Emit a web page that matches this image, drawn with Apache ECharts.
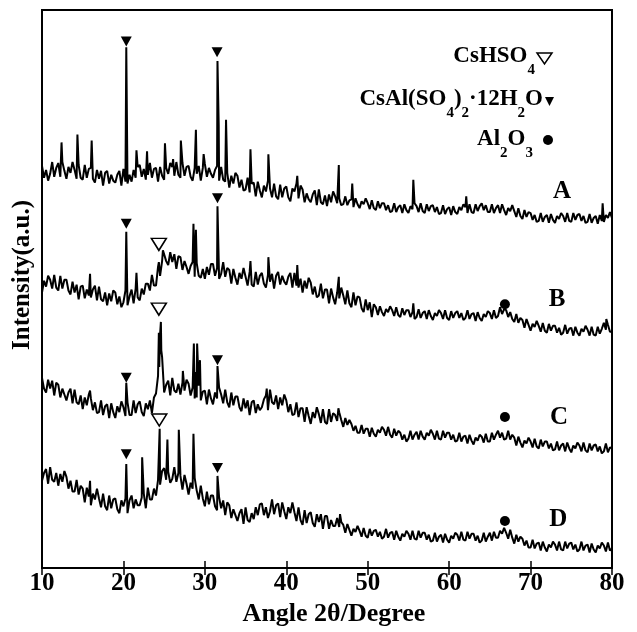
<!DOCTYPE html>
<html>
<head>
<meta charset="utf-8">
<script src="https://cdn.jsdelivr.net/npm/echarts@6.0.0/dist/echarts.min.js"></script>
<style>
    html, body { margin: 0; padding: 0; background: #fff; }
    #chart { width: 637px; height: 632px; }
</style>
</head>
<body>
<div id="chart"></div>
<script>
// 2θ grid of the scans, 10° .. 80° every 0.25°
const angles = [];
for (let i = 0; i <= 280; i++) angles.push(10 + i * 0.25);

// intensities (a.u.), one row = 2 degrees
const intensityA = [
    410,398,406,395, 402,414,399,408,
    413,399,414,405, 397,409,403,414,
    406,397,411,398, 396,411,398,407,
    408,397,393,406, 397,405,390,403,
    405,392,401,395, 393,401,405,390,
    407,394,392,401, 394,406,398,409,
    411,399,407,396, 401,413,398,407,
    408,394,409,400, 396,408,402,413,
    409,400,414,401, 398,413,400,409,
    410,399,395,408, 402,410,395,408,
    412,399,408,402, 398,406,410,395,
    409,396,394,403, 388,400,392,403,
    400,388,396,385, 386,398,383,392,
    393,379,394,385, 378,390,384,395,
    387,378,392,379, 376,391,378,387,
    389,378,374,387, 384,392,377,390,
    386,373,382,376, 373,381,385,370,
    386,373,371,380, 369,381,373,384,
    379,372,377,370, 371,379,370,375,
    376,368,377,371, 367,374,371,377,
    372,366,375,367, 365,374,367,372,
    372,365,370,363, 364,372,363,368,
    370,362,371,365, 362,369,366,372,
    369,363,372,364, 362,371,364,369,
    370,363,368,361, 362,370,361,366,
    368,360,369,363, 361,368,365,371,
    368,362,371,363, 362,371,364,369,
    372,365,370,363, 363,371,362,367,
    370,362,371,365, 360,367,364,370,
    364,358,367,359, 356,365,358,363,
    362,355,360,353, 354,362,353,358,
    360,352,361,355, 352,359,356,362,
    359,353,362,354, 353,362,355,360,
    361,354,359,352, 353,361,352,357,
    359,351,360,354, 353,360,357,363,
    357
];
const intensityB = [
    281,293,287,298, 294,285,299,286,
    283,298,285,294, 294,283,279,292,
    281,289,274,287, 288,275,284,278,
    276,284,288,273, 287,274,272,281,
    268,280,272,283, 281,269,277,266,
    271,283,268,277, 284,270,285,276,
    273,285,279,290, 290,283,299,288,
    288,307,298,313, 324,313,309,322,
    312,320,305,318, 317,304,313,307,
    300,308,312,297, 311,298,296,305,
    295,307,299,310, 310,298,306,295,
    300,312,297,306, 304,290,305,296,
    289,301,295,306, 297,288,302,289,
    287,302,289,298, 301,290,286,299,
    292,300,285,298, 302,289,298,292,
    289,297,301,286, 301,288,286,295,
    281,293,285,296, 291,279,287,276,
    278,290,275,284, 284,270,285,276,
    269,281,275,286, 278,269,283,270,
    266,281,268,277, 276,265,261,274,
    263,271,256,269, 266,258,267,261,
    257,264,261,267, 263,257,266,258,
    256,265,258,263, 263,256,261,254,
    256,264,255,260, 262,254,263,257,
    253,260,257,263, 260,254,263,255,
    253,262,255,260, 262,255,260,253,
    255,263,254,259, 260,252,261,255,
    252,259,256,262, 260,254,263,255,
    257,266,259,264, 263,256,261,254,
    251,259,250,255, 253,245,254,248,
    242,249,246,252, 247,241,250,242,
    240,249,242,247, 247,240,245,238,
    240,248,239,244, 245,237,246,240,
    237,244,241,247, 243,237,246,238,
    237,246,239,244, 250,243,248,241,
    241
];
const intensityC = [
    194,183,179,192, 183,191,176,189,
    187,174,183,177, 171,179,183,168,
    182,169,167,176, 162,174,166,177,
    173,161,169,158, 159,171,156,165,
    167,153,168,159, 153,165,159,170,
    164,155,169,156, 156,171,158,167,
    170,159,155,168, 162,171,158,174,
    178,196,238,215, 179,187,191,176,
    194,181,179,188, 177,189,181,192,
    188,176,184,173, 174,186,171,180,
    181,167,182,173, 167,179,173,184,
    177,168,182,169, 164,179,166,175,
    175,164,160,173, 163,171,156,169,
    171,158,167,161, 164,172,176,161,
    182,169,167,176, 162,174,166,177,
    171,159,167,156, 157,169,154,163,
    163,149,164,155, 147,159,153,164,
    157,148,162,149, 147,162,149,158,
    156,150,159,151, 144,153,146,151,
    147,140,145,138, 138,146,137,142,
    142,134,143,137, 134,141,138,144,
    141,135,144,136, 133,142,135,140,
    138,131,136,129, 132,140,131,136,
    139,131,140,134, 131,138,135,141,
    137,131,140,132, 131,140,133,138,
    138,131,136,129, 130,138,129,134,
    135,127,136,130, 126,133,130,136,
    134,128,137,129, 129,138,131,136,
    140,133,138,131, 132,140,131,136,
    133,125,134,128, 123,130,127,133,
    129,123,132,124, 122,131,124,129,
    129,122,127,120, 121,129,120,125,
    127,119,128,122, 118,125,122,128,
    125,119,128,120, 118,127,120,125,
    126,119,124,117, 119,127,118,123,
    122
];
const intensityD = [
    89,97,101,86, 103,90,88,97,
    84,96,88,99, 93,81,89,78,
    78,90,75,84, 81,67,82,73,
    64,76,70,81, 71,62,76,63,
    59,74,61,70, 71,60,56,69,
    63,71,56,69, 74,61,70,64,
    64,72,76,61, 82,70,70,81,
    74,90,85,99, 102,90,98,87,
    91,103,88,97, 94,80,95,86,
    75,87,81,92, 79,70,84,71,
    63,78,65,74, 74,63,59,72,
    61,69,54,67, 64,51,60,54,
    48,56,60,45, 62,49,47,56,
    50,62,54,65, 66,54,62,51,
    58,70,55,64, 66,52,67,58,
    50,62,56,67, 57,48,62,49,
    44,59,46,55, 57,46,42,55,
    47,55,40,53, 53,40,49,43,
    43,51,42,47, 44,36,45,39,
    33,40,37,43, 38,32,41,33,
    31,40,33,38, 39,32,37,30,
    32,40,31,36, 37,29,38,32,
    28,35,32,38, 35,29,38,30,
    29,38,31,36, 36,29,34,27,
    28,36,27,32, 34,26,35,29,
    26,33,30,36, 34,28,37,29,
    28,37,30,35, 35,28,33,26,
    28,36,27,32, 36,28,37,31,
    31,38,35,41, 36,30,39,31,
    25,34,27,32, 30,23,28,21,
    21,29,20,25, 26,18,27,21,
    17,24,21,27, 24,18,27,19,
    18,27,20,25, 26,19,24,17,
    19,27,18,23, 24,16,25,19,
    16,23,20,26, 23,17,26,18,
    20
];

// sharp reflections [2θ, top]
const peaksA = [[12.4,434],[14.35,442],[16.1,436],[20.35,531],[21.6,426],[22.9,425],[25.1,433],[26.1,417],
    [27.05,436],[28.9,447],[29.85,422],[31.55,517],[31.7,452],[32.6,457],[35.6,427],[37.8,422],[41.35,400],
    [46.45,411],[48.1,392],[55.6,396],[62.1,379],[78.85,372]];
const peaksB = [[15.9,300],[20.35,343],[21.6,301],[24.35,312],[24.85,324],[28.6,351],[28.9,345],[31.55,369],
    [35.6,313],[37.8,317],[41.35,309],[46.45,297],[55.6,270],[79.3,254]];
const peaksC = [[15.9,181],[20.35,189],[24.35,240],[24.4,205],[24.6,251],[24.65,222],[24.9,214],[27.3,201],
    [28.65,229],[28.85,200],[29.05,229],[29.4,212],[31.55,206],[37.6,183],[46.4,163]];
const peaksD = [[15.9,89],[20.35,106],[22.3,113],[24.45,142],[25.4,131],[26.8,141],[28.6,137],[31.55,94],[46.6,55]];

// phase markers
const alumMarks = [[20.35,537],[31.5,526],[20.35,351],[31.55,377],[20.35,194],[31.55,212],[20.35,116],[31.55,102]];
const hso4Marks = [[24.35,330],[24.35,264],[24.4,151]];
const aluminaMarks = [[66.85,269],[66.85,154],[66.85,48]];

const sampleNames = ['A', 'B', 'C', 'D'];
const samplePos = [[73.85,384],[73.25,274],[73.5,153],[73.4,50]];

const serif = '"Liberation Serif", "Times New Roman", serif';

function buildTrace(values, peaks) {
    const pts = angles.map((a, i) => [a, values[i]]);
    return pts.concat(peaks).sort((p, q) => p[0] - q[0]);
}

function traceSeries(values, peaks) {
    return {
        type: 'line',
        data: buildTrace(values, peaks),
        showSymbol: false,
        lineStyle: { color: '#000', width: 2 },
        silent: true
    };
}

const chart = echarts.init(document.getElementById('chart'));

const mainTxt = { fontFamily: serif, fontWeight: 'bold', fontSize: 23, lineHeight: 23, verticalAlign: 'top', color: '#000' };
const subTxt = { fontFamily: serif, fontWeight: 'bold', fontSize: 15, lineHeight: 15, padding: [18, 0, 0, 0], verticalAlign: 'top', color: '#000' };

const option = {
    animation: false,
    backgroundColor: '#fff',
    grid: { left: 42, right: 25, top: 10, bottom: 53, show: true, borderColor: '#000', borderWidth: 2 },
    xAxis: [
        {
            type: 'value', min: 10, max: 80, interval: 10,
            name: 'Angle 2θ/Degree',
            nameLocation: 'middle',
            nameGap: 23,
            nameTextStyle: { fontFamily: serif, fontWeight: 'bold', fontSize: 26, color: '#000', padding: [0, 0, 0, 14] },
            axisLine: { show: true, lineStyle: { color: '#000', width: 2 } },
            axisTick: { show: true, inside: true, length: 7, lineStyle: { color: '#000', width: 1.5 } },
            axisLabel: { fontFamily: serif, fontWeight: 'bold', fontSize: 25, color: '#000', margin: 3 },
            splitLine: { show: false }
        },
        {
            type: 'value', min: 10, max: 80, interval: 10, position: 'top',
            axisLine: { show: true, lineStyle: { color: '#000', width: 2 } },
            axisTick: { show: true, inside: true, length: 7, lineStyle: { color: '#000', width: 1.5 } },
            axisLabel: { show: false },
            splitLine: { show: false }
        }
    ],
    yAxis: [
        {
            type: 'value', min: 0, max: 569,
            axisLine: { show: true, lineStyle: { color: '#000', width: 2 } },
            axisTick: { show: false }, axisLabel: { show: false }, splitLine: { show: false }
        },
        {
            type: 'value', min: 0, max: 569, position: 'right',
            axisLine: { show: true, lineStyle: { color: '#000', width: 2 } },
            axisTick: { show: false }, axisLabel: { show: false }, splitLine: { show: false }
        }
    ],
    series: [
        traceSeries(intensityA, peaksA),
        traceSeries(intensityB, peaksB),
        traceSeries(intensityC, peaksC),
        traceSeries(intensityD, peaksD),
        {
            type: 'scatter', data: alumMarks, symbol: 'triangle', symbolRotate: 180,
            symbolSize: [11, 10], itemStyle: { color: '#000', opacity: 1 }, silent: true
        },
        {
            type: 'scatter', data: hso4Marks, symbol: 'triangle', symbolRotate: 180,
            symbolSize: [15, 12], itemStyle: { color: '#fff', borderColor: '#000', borderWidth: 1.5, opacity: 1 }, silent: true
        },
        {
            type: 'scatter', data: aluminaMarks, symbol: 'circle',
            symbolSize: 10, itemStyle: { color: '#000', opacity: 1 }, silent: true
        },
        {
            type: 'scatter', symbolSize: 0, silent: true,
            itemStyle: { opacity: 1 },
            data: sampleNames.map((n, i) => ({ name: n, value: samplePos[i] })),
            label: {
                show: true, position: 'inside', formatter: '{b}', opacity: 1,
                fontFamily: serif, fontWeight: 'bold', fontSize: 25, color: '#000'
            }
        }
    ],
    graphic: [
        {
            type: 'text', x: 23, y: 275, rotation: Math.PI / 2,
            style: { text: 'Intensity(a.u.)', font: 'bold 25px ' + serif, fill: '#000', align: 'center', verticalAlign: 'middle' }
        },
        {
            type: 'text', x: 535, y: 45,
            style: { text: '{m|CsHSO}{s|4}', rich: { m: mainTxt, s: subTxt }, align: 'right', verticalAlign: 'top' }
        },
        {
            type: 'text', x: 543, y: 88,
            style: { text: '{m|CsAl(SO}{s|4}{m|)}{s|2}{m|·12H}{s|2}{m|O}', rich: { m: mainTxt, s: subTxt }, align: 'right', verticalAlign: 'top' }
        },
        {
            type: 'text', x: 533, y: 128,
            style: { text: '{m|Al}{s|2}{m|O}{s|3}', rich: { m: mainTxt, s: subTxt }, align: 'right', verticalAlign: 'top' }
        },
        {
            type: 'polygon', shape: { points: [[537, 53], [552, 53], [544.5, 64]] },
            style: { fill: '#fff', stroke: '#000', lineWidth: 1.5 }
        },
        {
            type: 'polygon', shape: { points: [[545, 97], [554, 97], [549.5, 106]] },
            style: { fill: '#000' }
        },
        {
            type: 'circle', shape: { cx: 548, cy: 140, r: 5 },
            style: { fill: '#000' }
        }
    ]
};

chart.setOption(option);
</script>
</body>
</html>
